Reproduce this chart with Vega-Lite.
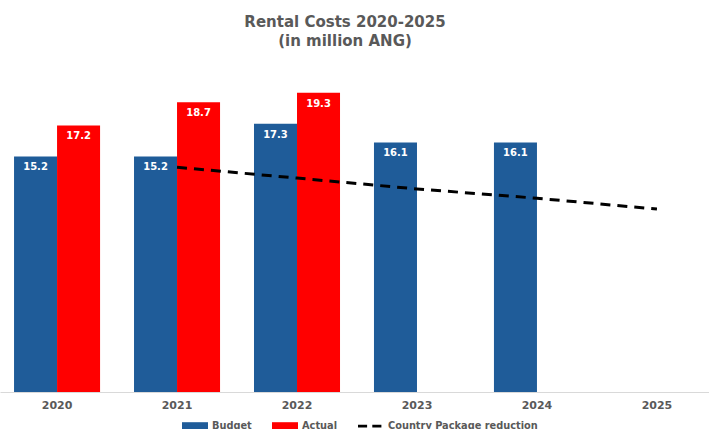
{
  "$schema": "https://vega.github.io/schema/vega-lite/v6.json",
  "autosize": {"type": "none"},
  "width": 714,
  "height": 310,
  "padding": {"left": 0, "top": 82, "right": 0, "bottom": 37},
  "background": "white",
  "title": {
    "text": ["Rental Costs 2020-2025", "(in million ANG)"],
    "font": "DejaVu Sans",
    "fontSize": 15,
    "fontWeight": "bold",
    "color": "#595959",
    "lineHeight": 19,
    "anchor": "middle",
    "offset": 33,
    "dx": -12
  },
  "data": {
    "values": [
      {"year": "2020", "series": "Budget", "value": 15.2},
      {"year": "2021", "series": "Budget", "value": 15.2},
      {"year": "2022", "series": "Budget", "value": 17.3},
      {"year": "2023", "series": "Budget", "value": 16.1},
      {"year": "2024", "series": "Budget", "value": 16.1},
      {"year": "2020", "series": "Actual", "value": 17.2},
      {"year": "2021", "series": "Actual", "value": 18.7},
      {"year": "2022", "series": "Actual", "value": 19.3},
      {"year": "2021", "series": "Country Package reduction", "value": 14.5},
      {"year": "2022", "series": "Country Package reduction", "value": 13.8},
      {"year": "2023", "series": "Country Package reduction", "value": 13.1},
      {"year": "2024", "series": "Country Package reduction", "value": 12.5},
      {"year": "2025", "series": "Country Package reduction", "value": 11.8}
    ]
  },
  "encoding": {
    "x": {
      "field": "year",
      "type": "nominal",
      "scale": {"domain": ["2020", "2021", "2022", "2023", "2024", "2025"], "paddingInner": 0.283, "paddingOuter": 0.117},
      "axis": {
        "title": null,
        "labelAngle": 0,
        "ticks": false,
        "domainColor": "#d9d9d9",
        "domainWidth": 1,
        "labelFont": "DejaVu Sans",
        "labelFontWeight": "bold",
        "labelFontSize": 11,
        "labelColor": "#595959",
        "labelPadding": 7
      }
    },
    "y": {
      "field": "value",
      "type": "quantitative",
      "scale": {"domain": [0, 20], "nice": false},
      "axis": null
    }
  },
  "layer": [
    {
      "transform": [{"filter": "datum.series !== 'Country Package reduction'"}],
      "mark": {"type": "bar"},
      "encoding": {
        "xOffset": {"field": "series", "type": "nominal", "scale": {"domain": ["Budget", "Actual"], "paddingInner": 0, "paddingOuter": 0}},
        "color": {
          "field": "series",
          "type": "nominal",
          "scale": {"domain": ["Budget", "Actual", "Country Package reduction"], "range": ["#1F5C99", "#FF0000", "#000000"]},
          "legend": {
            "title": null,
            "orient": "none",
            "legendX": 182,
            "legendY": 331,
            "padding": 0,
            "direction": "horizontal",
            "labelFont": "DejaVu Sans",
            "labelFontWeight": "bold",
            "labelFontSize": 9.8,
            "labelColor": "#595959",
            "labelBaseline": "middle",
            "symbolSize": 676,
            "columnPadding": 20,
            "labelOffset": 4,
            "encode": {
              "symbols": {
                "update": {
                  "shape": {"signal": "datum.value === 'Country Package reduction' ? 'M-1,-0.1L-0.3,-0.1L-0.3,0.1L-1,0.1Z M0.1,-0.1L0.8,-0.1L0.8,0.1L0.1,0.1Z' : 'M-1,-0.3L1,-0.3L1,0.3L-1,0.3Z'"},
                  "fill": {"signal": "datum.value === 'Budget' ? '#1F5C99' : datum.value === 'Actual' ? '#FF0000' : '#000000'"},
                  "stroke": {"value": "transparent"},
                  "strokeWidth": {"value": 0},
                  "opacity": {"value": 1},
                  "fillOpacity": {"value": 1}
                }
              }
            }
          }
        }
      }
    },
    {
      "transform": [{"filter": "datum.series !== 'Country Package reduction'"}],
      "mark": {"type": "text", "color": "white", "font": "DejaVu Sans", "fontWeight": "bold", "fontSize": 10, "baseline": "middle", "dy": 11},
      "encoding": {
        "xOffset": {"field": "series", "type": "nominal", "scale": {"domain": ["Budget", "Actual"], "paddingInner": 0, "paddingOuter": 0}},
        "text": {"field": "value", "type": "quantitative", "format": ".1f"}
      }
    },
    {
      "transform": [{"filter": "datum.series === 'Country Package reduction'"}],
      "mark": {"type": "line", "strokeDash": [10, 7], "strokeWidth": 3},
      "encoding": {
        "color": {"field": "series", "type": "nominal"}
      }
    }
  ],
  "config": {
    "view": {"stroke": null}
  }
}
